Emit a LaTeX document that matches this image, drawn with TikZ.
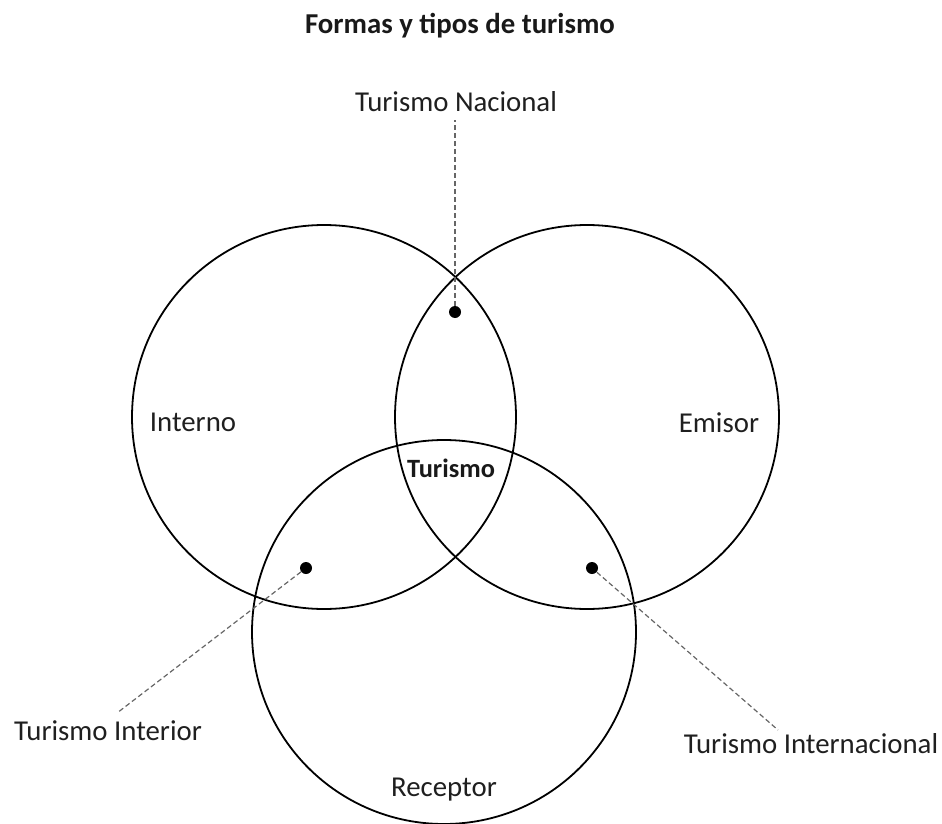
\documentclass[tikz,border=0pt]{standalone}
\usepackage{fontspec}
\setmainfont{Carlito}
\tikzset{
  circulo/.style={draw,circle,line width=0.9pt,minimum size=192pt,inner sep=0pt},
  punto/.style={circle,fill,inner sep=0pt,minimum size=6pt},
  etiqueta/.style={anchor=base,font=\fontsize{14.4}{17}\selectfont,text=black!88},
  negrita/.style={anchor=base,font=\fontsize{13.2}{16}\selectfont\bfseries,text=black!90},
  guia/.style={dash pattern=on 2.5pt off 1.5pt,black!60,line width=0.6pt}
}
\begin{document}
\begin{tikzpicture}[x=0.5pt,y=-0.5pt]
\useasboundingbox (0,0) rectangle (942,824);
\node[negrita,font=\fontsize{14.4}{17}\selectfont\bfseries] (titulo) at (460,34) {Formas y tipos de turismo};
\node[circulo] (interno) at (324,417) {};
\node[circulo] (emisor) at (587,417) {};
\node[circulo] (receptor) at (444,632) {};
\node[etiqueta] (linterno) at (193,431) {Interno};
\node[etiqueta] (lemisor) at (719,432) {Emisor};
\node[etiqueta] (lreceptor) at (444,796) {Receptor};
\node[negrita] (turismo) at (451,477) {Turismo};
\node[punto] (dnac) at (455,312) {};
\node[punto] (dint) at (306,568) {};
\node[punto] (dext) at (592,568) {};
\node[etiqueta] (lnac) at (456,112) {Turismo Nacional};
\node[etiqueta] (lint) at (108,740) {Turismo Interior};
\node[etiqueta] (lext) at (811,753) {Turismo Internacional};
\coordinate (enac) at (455,120);
\coordinate (eint) at (117,713);
\coordinate (eext) at (778,730);
\foreach \a/\b in {dnac/enac,dint/eint,dext/eext} {
  \draw[guia] (\a) -- (\b);
}
\end{tikzpicture}
\end{document}
